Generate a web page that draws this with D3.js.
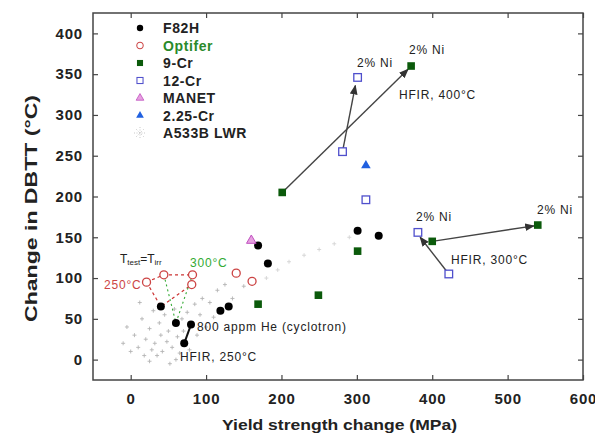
<!DOCTYPE html>
<html>
<head>
<meta charset="utf-8">
<script src="https://cdn.jsdelivr.net/npm/d3@7"></script>
<style>
  body { margin: 0; background: #fff; }
  svg { font-family: "Liberation Sans", Arial, sans-serif; }
</style>
</head>
<body>
<svg id="chart" width="595" height="435"></svg>
<script>
// data (yield strength change MPa, DBTT change °C)
var f82h = [[40, 65], [60, 45], [71, 20], [80, 43], [119, 60], [130, 65], [169, 140], [182, 118], [301, 158], [329, 152]];
var optifer = [[21, 95], [44, 104], [82, 104], [81, 92], [140, 106], [161, 96]];
var cr9 = [[201, 205], [372, 360], [301, 133], [249, 79], [169, 68], [400, 145], [540, 165]];
var cr12 = [[301, 346], [281, 255], [312, 196], [381, 156], [422, 105]];
var manet = [[160, 146]];
var cr225 = [[312, 238]];
var a533b = [[-5, 40], [5, 30], [10, 15], [15, 50], [18, 5], [20, 25], [25, 38], [28, 12], [30, 60], [32, 20],
  [35, 5], [38, 45], [40, 30], [42, 10], [45, 55], [48, 22], [50, 35], [52, -5], [55, 15], [58, 62],
  [62, 28], [65, 8], [68, 50], [70, 35], [75, 58], [78, 12], [85, 68], [88, 30], [92, 55], [95, 75],
  [100, 40], [105, 70], [110, 52], [115, 85], [125, 92], [135, 75], [150, 90], [0, 10], [12, 70], [-10, 20],
  [60, 0], [25, -2], [210, 120], [230, 128], [250, 135], [270, 142], [290, 150], [180, 100], [195, 110]];

// annotation lines
var arrows = [[[201, 205], [368, 356]], [[281, 255], [298, 336]], [[400, 145], [535, 164]], [[422, 105], [384, 150]]];
var redDash = [[[21, 95], [44, 104], [82, 104]], [[21, 95], [40, 65], [81, 92]]];
var greenDash = [[[44, 104], [60, 45], [82, 104]]];
var heLine = [[71, 20], [80, 43]];

var xTicks = [0, 100, 200, 300, 400, 500, 600];
var yTicks = [0, 50, 100, 150, 200, 250, 300, 350, 400];

var legendNames = ["F82H", "Optifer", "9-Cr", "12-Cr", "MANET", "2.25-Cr", "A533B LWR"];

var svg = d3.select("#chart");
var margin = {left: 93, right: 12, top: 13, bottom: 55};
var width = 595 - margin.left - margin.right,
    height = 435 - margin.top - margin.bottom;

var x = d3.scaleLinear().domain([-50, 600]).range([0, width]);
var y = d3.scaleLinear().domain([-25, 425]).range([height, 0]);

var g = svg.append("g").attr("transform", "translate(" + margin.left + "," + margin.top + ")");

var line = d3.line().x(function(d) { return x(d[0]); }).y(function(d) { return y(d[1]); });

// defs for arrows
svg.append("defs").append("marker")
  .attr("id", "arr").attr("viewBox", "0 0 10 10").attr("refX", 9).attr("refY", 5)
  .attr("markerWidth", 7).attr("markerHeight", 7).attr("orient", "auto")
  .append("path").attr("d", "M0,1 L10,5 L0,9 Z").attr("fill", "#333");

// A533B scatter (faint)
g.selectAll(".lwr").data(a533b).enter().append("path")
  .attr("d", "M-2,0H2M0,-2V2")
  .attr("transform", function(d) { return "translate(" + x(d[0]) + "," + y(d[1]) + ")"; })
  .attr("stroke", function(d) { return d[0] > 170 ? "#d4d4d4" : "#b4b4b4"; }).attr("stroke-width", 0.9);

// dashed lines
g.selectAll(".rd").data(redDash).enter().append("path")
  .attr("d", line).attr("fill", "none").attr("stroke", "#cc3333")
  .attr("stroke-width", 1.2).attr("stroke-dasharray", "3,3");
g.selectAll(".gd").data(greenDash).enter().append("path")
  .attr("d", line).attr("fill", "none").attr("stroke", "#33aa33")
  .attr("stroke-width", 1.1).attr("stroke-dasharray", "2,3");

// arrows
g.selectAll(".ar").data(arrows).enter().append("path")
  .attr("d", line).attr("fill", "none").attr("stroke", "#444")
  .attr("stroke-width", 1.4).attr("marker-end", "url(#arr)");
g.append("path").attr("d", line(heLine)).attr("stroke", "#111").attr("stroke-width", 2).attr("fill", "none");

// axes frame
var ax = g.append("g").attr("class", "axes");
ax.append("rect").attr("width", width).attr("height", height)
  .attr("fill", "none").attr("stroke", "#444").attr("stroke-width", 1.5);

function tickStyle(sel) {
  sel.select(".domain").remove();
  sel.selectAll("line").attr("stroke", "#444").attr("stroke-width", 1.2);
  sel.selectAll("text").attr("font-size", 15).attr("font-weight", "bold").attr("fill", "#222")
    .attr("letter-spacing", 0.8);
}
g.append("g").attr("transform", "translate(0," + height + ")")
  .call(d3.axisBottom(x).tickValues(xTicks).tickSizeInner(-5).tickPadding(13).tickFormat(d3.format("d")))
  .call(tickStyle);
g.append("g")
  .call(d3.axisTop(x).tickValues(xTicks).tickSizeInner(-5).tickFormat(""))
  .call(tickStyle);
g.append("g")
  .call(d3.axisLeft(y).tickValues(yTicks).tickSizeInner(-5).tickPadding(10).tickFormat(d3.format("d")))
  .call(tickStyle);
g.append("g").attr("transform", "translate(" + width + ",0)")
  .call(d3.axisRight(y).tickValues(yTicks).tickSizeInner(-5).tickFormat(""))
  .call(tickStyle);

// axis titles
svg.append("text").attr("x", 222).attr("y", 430)
  .attr("font-size", 15).attr("font-weight", "bold").attr("fill", "#222")
  .attr("textLength", 235).attr("lengthAdjust", "spacingAndGlyphs")
  .text("Yield strength change (MPa)");
svg.append("text").attr("transform", "translate(37,322) rotate(-90)")
  .attr("font-size", 16).attr("font-weight", "bold").attr("fill", "#222")
  .attr("textLength", 227).attr("lengthAdjust", "spacingAndGlyphs")
  .text("Change in DBTT (°C)");

// marker drawing
var sym = {
  F82H: function(s) { s.append("circle").attr("r", 4).attr("fill", "#000"); },
  Optifer: function(s) { s.append("circle").attr("r", 4).attr("fill", "#fff").attr("stroke", "#cc4444").attr("stroke-width", 1.3); },
  "9-Cr": function(s) { s.append("rect").attr("x", -3.8).attr("y", -3.8).attr("width", 7.6).attr("height", 7.6).attr("fill", "#0b5a0b"); },
  "12-Cr": function(s) { s.append("rect").attr("x", -3.8).attr("y", -3.8).attr("width", 7.6).attr("height", 7.6).attr("fill", "#fff").attr("stroke", "#4f4fcc").attr("stroke-width", 1.3); },
  MANET: function(s) { s.append("path").attr("d", d3.symbol(d3.symbolTriangle, 40)).attr("fill", "#e7a0e0").attr("stroke", "#c050c0").attr("stroke-width", 1); },
  "2.25-Cr": function(s) { s.append("path").attr("d", d3.symbol(d3.symbolTriangle, 40)).attr("fill", "#2060e0"); },
  "A533B LWR": function(s) {
    s.append("path").attr("d", "M-6,0H6M0,-6V6M-4,-4L4,4M-4,4L4,-4").attr("stroke", "#bbb").attr("stroke-width", 0.8).attr("stroke-dasharray", "1,1.5");
  }
};

function plot(data, name) {
  var pts = g.selectAll(null).data(data).enter().append("g")
    .attr("transform", function(d) { return "translate(" + x(d[0]) + "," + y(d[1]) + ")"; });
  sym[name](pts);
}
plot(optifer, "Optifer");
plot(f82h, "F82H");
plot(cr9, "9-Cr");
plot(cr12, "12-Cr");
plot(manet, "MANET");
plot(cr225, "2.25-Cr");

// legend
var leg = svg.append("g").attr("transform", "translate(140,28)");
legendNames.forEach(function(n, i) {
  var row = leg.append("g").attr("transform", "translate(0," + (i * 17.5) + ")");
  var m = row.append("g");
  sym[n](m);
  if (n != "A533B LWR") m.attr("transform", "scale(0.8)");
  row.append("text").attr("x", 23).attr("y", 5).attr("font-size", 14).attr("font-weight", "bold")
    .attr("letter-spacing", 0.6)
    .attr("fill", n == "Optifer" ? "#2a8a2a" : "#222").text(n);
});

// annotations
function note(xp, yp, txt, color) {
  return svg.append("text").attr("x", xp).attr("y", yp).attr("font-size", 12)
    .attr("letter-spacing", 0.8).attr("fill", color || "#222").text(txt);
}
note(357, 67, "2% Ni");
note(409, 54, "2% Ni");
note(399, 99, "HFIR, 400°C");
note(416, 221, "2% Ni");
note(537, 214, "2% Ni");
note(451, 264, "HFIR, 300°C");
note(197, 331, "800 appm He (cyclotron)");
note(180, 361, "HFIR, 250°C");
note(104, 289, "250°C", "#cc4444");
note(190, 267, "300°C", "#33aa33");
var tt = svg.append("text").attr("x", 120).attr("y", 263).attr("font-size", 12).attr("fill", "#222");
tt.append("tspan").text("T");
tt.append("tspan").attr("font-size", 8).attr("dy", 2).text("test");
tt.append("tspan").attr("dy", -2).text("=T");
tt.append("tspan").attr("font-size", 8).attr("dy", 2).text("irr");
</script>
</body>
</html>
